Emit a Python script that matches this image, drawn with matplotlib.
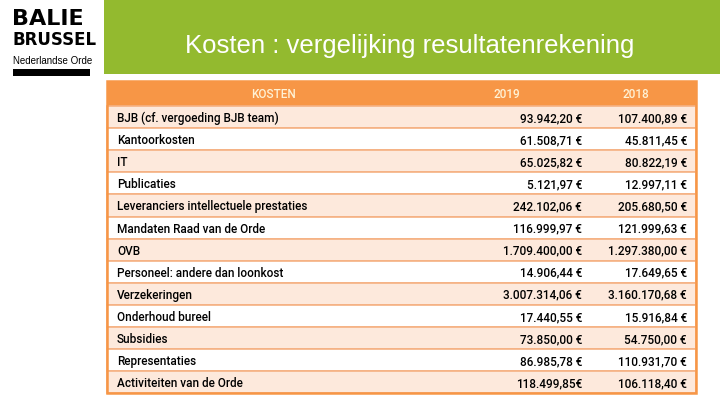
import matplotlib.pyplot as plt
from matplotlib.patches import Rectangle

# gegevens
titel = "Kosten : vergelijking resultatenrekening"
kolommen = ["KOSTEN", "2019", "2018"]
posten = [
    "BJB (cf. vergoeding BJB team)",
    "Kantoorkosten",
    "IT",
    "Publicaties",
    "Leveranciers intellectuele prestaties",
    "Mandaten Raad van de Orde",
    "OVB",
    "Personeel: andere dan loonkost",
    "Verzekeringen",
    "Onderhoud bureel",
    "Subsidies",
    "Representaties",
    "Activiteiten van de Orde",
]
kosten_2019 = ["93.942,20 €", "61.508,71 €", "65.025,82 €", "5.121,97 €", "242.102,06 €",
               "116.999,97 €", "1.709.400,00 €", "14.906,44 €", "3.007.314,06 €",
               "17.440,55 €", "73.850,00 €", "86.985,78 €", "118.499,85€"]
kosten_2018 = ["107.400,89 €", "45.811,45 €", "80.822,19 €", "12.997,11 €", "205.680,50 €",
               "121.999,63 €", "1.297.380,00 €", "17.649,65 €", "3.160.170,68 €",
               "15.916,84 €", "54.750,00 €", "110.931,70 €", "106.118,40 €"]

groen = "#93BA2F"
oranje = "#F79646"
perzik = "#FDE9DC"
lijn = "#F5B183"
tabel_font = dict(family="Roboto", weight="medium", fontsize=8.5)

fig = plt.figure(figsize=(7.2, 4.05), dpi=100)
ax = fig.add_axes([0, 0, 1, 1])
ax.set_xlim(0, 720)
ax.set_ylim(405, 0)
ax.axis("off")

# groene titelbalk
ax.add_patch(Rectangle((104, 0), 616, 74, color=groen, lw=0))
ax.text(185, 46, titel, color="white", fontsize=18.5, family="Liberation Sans",
        va="center", ha="left")

# logo
ax.text(12, 19, "BALIE", fontsize=16, weight="heavy", family="DejaVu Sans",
        va="center", ha="left", color="black")
ax.text(12, 40, "BRUSSEL", fontsize=12, weight="bold", family="DejaVu Sans",
        va="center", ha="left", color="black")
ax.text(13, 61, "Nederlandse Orde", fontsize=7, family="Liberation Sans",
        va="center", ha="left", color="black")
ax.add_patch(Rectangle((13, 69), 77, 7, color="black", lw=0))

# tabel
links, rechts = 107, 696
boven, kop_h = 81, 25
rij_h = 22.1
col_x = [273, 507, 636]

ax.add_patch(Rectangle((links, boven), rechts - links, kop_h, color=oranje, lw=0))
for x, k in zip(col_x, kolommen):
    ax.text(x, boven + kop_h / 2 + 1.5, k, color="#FFF2D5", ha="center", va="center",
            **tabel_font)

for i, (p, a, b) in enumerate(zip(posten, kosten_2019, kosten_2018)):
    y0 = boven + kop_h + i * rij_h
    kleur = perzik if i % 2 == 0 else "white"
    ax.add_patch(Rectangle((links, y0), rechts - links, rij_h, facecolor=kleur,
                           edgecolor=lijn, lw=1.2))
    yc = y0 + rij_h / 2 + 1.5
    ax.text(117, yc, p, ha="left", va="center", **tabel_font)
    ax.text(582, yc, a, ha="right", va="center", **tabel_font)
    ax.text(687, yc, b, ha="right", va="center", **tabel_font)

onder = boven + kop_h + len(posten) * rij_h
ax.add_patch(Rectangle((links, boven), rechts - links, onder - boven, fill=False,
                       edgecolor=oranje, lw=1.8))

fig.savefig("out.png", dpi=100)
